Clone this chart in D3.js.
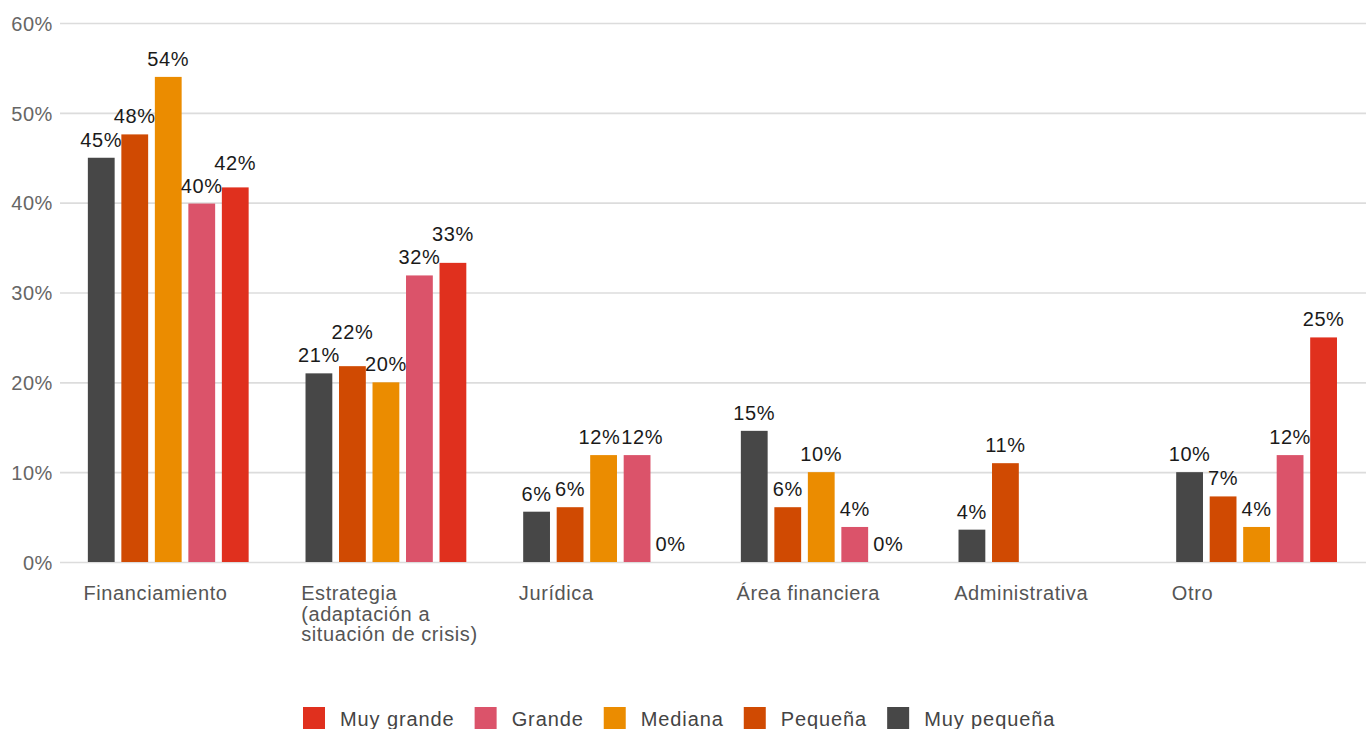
<!DOCTYPE html>
<html>
<head>
<meta charset="utf-8">
<script src="https://cdn.jsdelivr.net/npm/d3@7"></script>
<style>
  body { margin: 0; background: #fff; }
  text { font-family: "Liberation Sans", Arial, Helvetica, sans-serif; letter-spacing: 0.6px; }
</style>
</head>
<body>
<svg id="chart" width="1366" height="729"></svg>
<script>
var categories = [
    ["Financiamiento"],
    ["Estrategia", "(adaptación a", "situación de crisis)"],
    ["Jurídica"],
    ["Área financiera"],
    ["Administrativa"],
    ["Otro"]
];
var seriesNames = ["Muy pequeña", "Pequeña", "Mediana", "Grande", "Muy grande"];
var seriesColors = ["#474747", "#d04a02", "#eb8c00", "#db536a", "#e0301e"];

var muyPequena = [45.0, 21.0, 5.6, 14.6, 3.6, 10.0];
var pequena    = [47.6, 21.8, 6.1, 6.1, 11.0, 7.3];
var mediana    = [54.0, 20.0, 11.9, 10.0, null, 3.9];
var grande     = [39.9, 31.9, 11.9, 3.9, null, 11.9];
var muyGrande  = [41.7, 33.3, 0, 0, null, 25.0];
var seriesValues = [muyPequena, pequena, mediana, grande, muyGrande];

var yTicks = [0, 10, 20, 30, 40, 50, 60];
var legendOrder = ["Muy grande", "Grande", "Mediana", "Pequeña", "Muy pequeña"];

var svg = d3.select("#chart");

var x0 = d3.scaleBand()
    .domain(d3.range(categories.length))
    .range([60, 1366]);

var x1 = d3.scaleBand()
    .domain(seriesNames)
    .range([24.5, 192])
    .paddingInner(0.2)
    .paddingOuter(0.1);

var y = d3.scaleLinear()
    .domain([0, 60])
    .range([562, 23]);

// gridlines + y labels
var yAxis = d3.axisLeft(y)
    .tickValues(yTicks)
    .tickSize(-(1366 - 60))
    .tickPadding(7)
    .tickFormat(d => d + "%");

var gy = svg.append("g")
    .attr("transform", "translate(60,0)")
    .call(yAxis);
gy.select(".domain").remove();
gy.selectAll(".tick line")
    .attr("stroke", "#dcdcdc")
    .attr("stroke-width", 1.6);
gy.selectAll(".tick text")
    .attr("fill", "#666")
    .attr("font-size", 20)
    .attr("dy", "0.36em");

// bars
var groups = svg.selectAll(".grp")
    .data(categories)
    .enter()
    .append("g")
    .attr("class", "grp")
    .attr("transform", (d, i) => `translate(${x0(i)},0)`);

var fmt = d3.format(".0f");

groups.each(function(cat, ci) {
    var g = d3.select(this);
    var rows = seriesNames.map((s, si) => ({name: s, color: seriesColors[si], v: seriesValues[si][ci]}))
        .filter(d => d.v !== null);

    g.selectAll("rect")
        .data(rows)
        .enter()
        .append("rect")
        .attr("x", d => x1(d.name))
        .attr("width", x1.bandwidth())
        .attr("y", d => y(d.v))
        .attr("height", d => y(0) - y(d.v))
        .attr("fill", d => d.color);

    var labels = g.selectAll(".val")
        .data(rows)
        .enter()
        .append("text")
        .attr("class", "val")
        .attr("text-anchor", "middle")
        .attr("font-size", 20)
        .attr("fill", "#1a1a1a")
        .text(d => fmt(d.v) + "%");

    // label above bar, nudged when it runs into the previous one
    var prev = null;
    labels.each(function(d) {
        var w = this.getComputedTextLength();
        var cx = x1(d.name) + x1.bandwidth() / 2;
        var by = y(d.v) - 11;
        if (prev) {
            var hOver = (prev.cx + prev.w / 2) - (cx - w / 2);
            var dy = Math.abs(prev.by - by);
            if (hOver > 0 && dy < 18) {
                if (dy < 4) {
                    cx += hOver / 2 + 1;
                    prev.node.setAttribute("x", prev.cx - hOver / 2);
                } else {
                    by = Math.min(by, prev.by - 23);
                }
            }
        }
        d3.select(this).attr("x", cx).attr("y", by);
        prev = {cx: cx, w: w, by: by, node: this};
    });

    var lbl = g.append("text")
        .attr("x", 23.5)
        .attr("y", 600)
        .attr("font-size", 20)
        .attr("fill", "#555");
    lbl.selectAll("tspan")
        .data(cat)
        .enter()
        .append("tspan")
        .attr("x", 23.5)
        .attr("dy", (d, i) => i === 0 ? 0 : 20.5)
        .text(d => d);
});

// legend
var legend = svg.append("g");
var lx = 303;
legendOrder.forEach(function(name) {
    var color = seriesColors[seriesNames.indexOf(name)];
    legend.append("rect")
        .attr("x", lx)
        .attr("y", 707)
        .attr("width", 22)
        .attr("height", 22)
        .attr("fill", color);
    var t = legend.append("text")
        .attr("x", lx + 37)
        .attr("y", 726)
        .attr("font-size", 20)
        .attr("fill", "#444")
        .style("letter-spacing", "0.9px")
        .text(name);
    lx += 37 + t.node().getComputedTextLength() + 20;
});
</script>
</body>
</html>
